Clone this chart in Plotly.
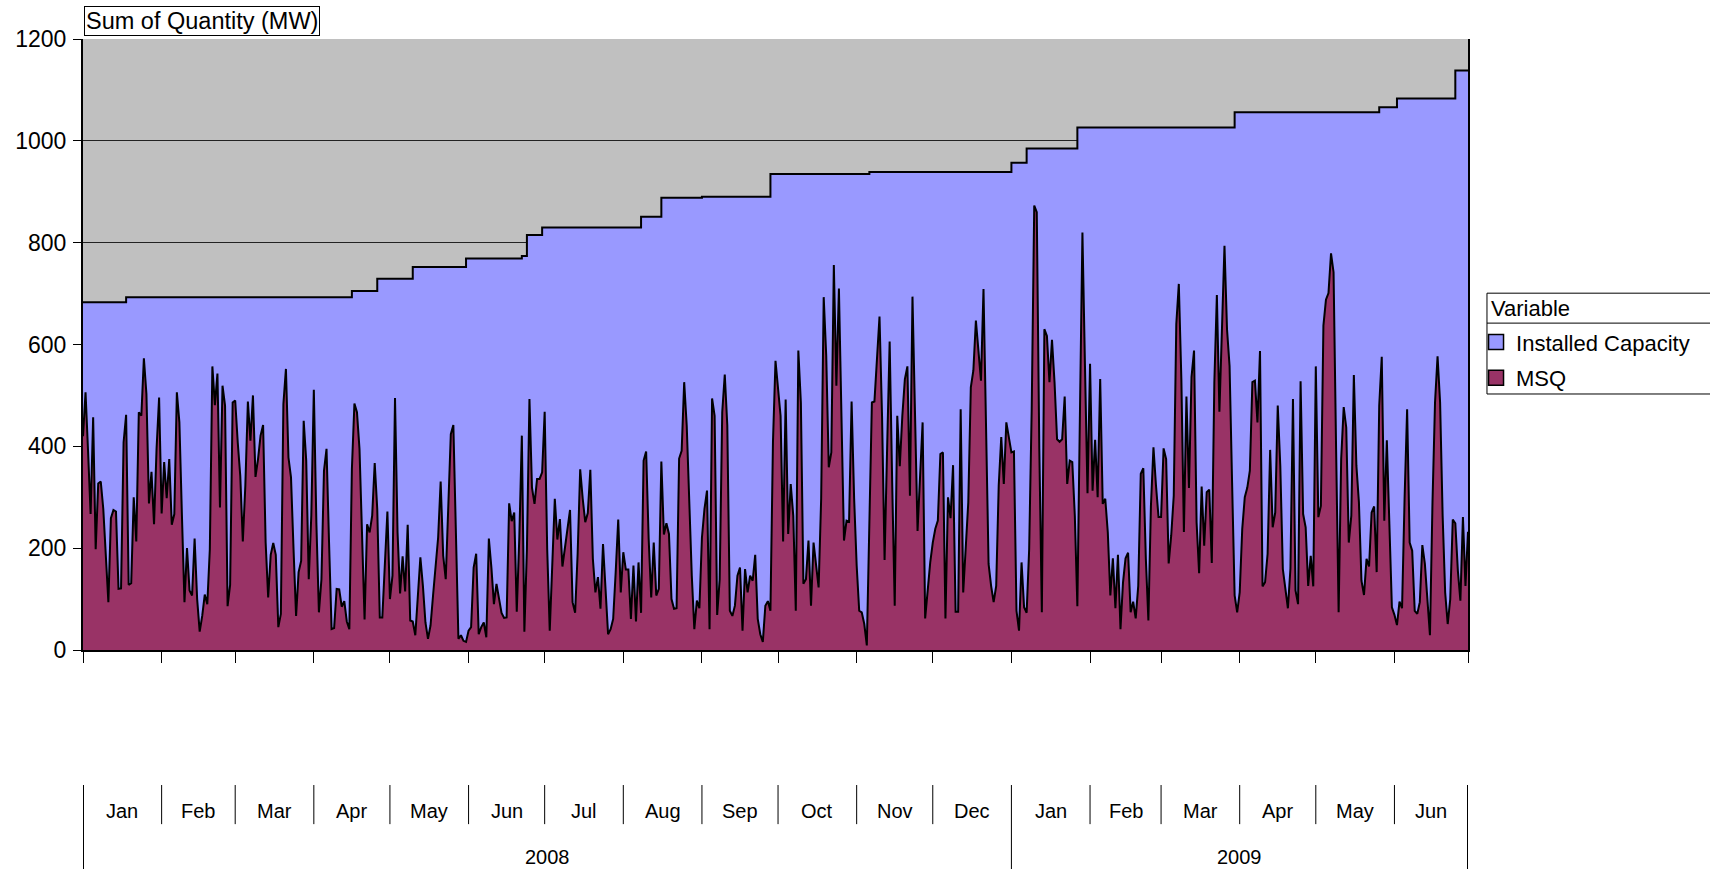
import pandas as pd
import plotly.graph_objects as go

# ---------------- data ----------------
msq_2008_01 = [420, 506, 390, 267, 457, 198, 327, 331, 277, 190, 94, 259, 275, 272, 120, 121, 408, 462, 128, 131, 300, 213, 467, 460, 573, 503, 288, 350, 247, 395, 496]
msq_2008_02 = [268, 369, 298, 375, 246, 267, 506, 447, 264, 94, 200, 117, 107, 219, 100, 36, 67, 109, 90, 198, 557, 481, 543, 280, 519, 480, 86, 128, 486]
msq_2008_03 = [490, 408, 342, 213, 323, 488, 411, 500, 340, 375, 421, 442, 211, 103, 187, 210, 187, 45, 71, 483, 552, 378, 339, 198, 67, 153, 175, 450, 372, 139, 264]
msq_2008_04 = [511, 250, 74, 139, 352, 395, 211, 41, 43, 120, 119, 85, 96, 56, 41, 355, 484, 467, 395, 231, 60, 247, 231, 264, 367, 277, 64, 64, 159, 272]
msq_2008_05 = [100, 146, 495, 231, 111, 184, 115, 246, 58, 56, 29, 110, 182, 126, 54, 22, 48, 107, 159, 221, 331, 185, 139, 297, 424, 442, 225, 22, 29, 18, 16]
msq_2008_06 = [38, 45, 162, 189, 31, 45, 54, 25, 219, 162, 90, 130, 103, 73, 63, 64, 288, 253, 270, 75, 221, 421, 36, 198, 493, 319, 287, 336, 336, 349]
msq_2008_07 = [468, 198, 38, 166, 297, 217, 257, 164, 198, 234, 275, 94, 73, 189, 355, 297, 251, 269, 354, 179, 113, 143, 81, 208, 113, 31, 41, 61, 153, 256, 113]
msq_2008_08 = [192, 158, 158, 61, 166, 56, 172, 73, 372, 390, 218, 103, 211, 107, 120, 370, 227, 249, 228, 100, 81, 82, 376, 391, 526, 441, 277, 146, 41, 97, 82]
msq_2008_09 = [221, 277, 313, 41, 494, 460, 69, 139, 467, 541, 441, 77, 67, 87, 146, 162, 38, 159, 113, 146, 136, 187, 61, 31, 16, 87, 96, 77, 408, 568]
msq_2008_10 = [513, 460, 213, 492, 228, 326, 264, 77, 588, 486, 130, 139, 215, 87, 211, 172, 123, 297, 693, 578, 359, 388, 756, 519, 710, 460, 215, 254, 252, 488, 297]
msq_2008_11 = [166, 77, 74, 51, 9, 244, 486, 488, 565, 655, 460, 177, 395, 606, 329, 87, 460, 361, 460, 532, 557, 303, 694, 460, 234, 342, 447, 62, 120, 172]
msq_2008_12 = [211, 238, 254, 385, 388, 62, 300, 259, 363, 75, 75, 473, 113, 198, 290, 516, 549, 647, 591, 529, 709, 434, 169, 126, 94, 126, 323, 418, 326, 447, 421]
msq_2009_01 = [388, 390, 77, 38, 172, 84, 73, 198, 473, 873, 860, 395, 74, 630, 617, 526, 609, 526, 414, 409, 414, 498, 326, 372, 369, 264, 86, 460, 820, 558, 308]
msq_2009_02 = [562, 313, 413, 300, 532, 287, 297, 231, 107, 180, 82, 187, 41, 133, 180, 191, 74, 95, 62, 126, 346, 357, 179, 58, 283, 398, 323, 261]
msq_2009_03 = [261, 396, 375, 170, 225, 303, 640, 719, 532, 232, 498, 318, 536, 588, 251, 151, 321, 205, 310, 315, 171, 526, 697, 468, 630, 794, 630, 558, 329, 107, 74]
msq_2009_04 = [113, 238, 300, 319, 352, 526, 529, 447, 587, 125, 133, 189, 393, 241, 270, 480, 362, 159, 120, 82, 160, 493, 117, 90, 528, 267, 241, 126, 185, 125]
msq_2009_05 = [557, 261, 283, 637, 688, 701, 779, 742, 395, 74, 375, 477, 437, 211, 264, 540, 362, 290, 136, 108, 179, 164, 270, 282, 153, 480, 576, 254, 412, 257, 84]
msq_2009_06 = [69, 49, 95, 82, 297, 473, 211, 195, 77, 71, 94, 206, 169, 94, 29, 290, 486, 577, 486, 264, 113, 51, 100, 256, 249, 156, 97, 261, 126, 232]

month_starts = ["2008-01-01", "2008-02-01", "2008-03-01", "2008-04-01", "2008-05-01", "2008-06-01",
                "2008-07-01", "2008-08-01", "2008-09-01", "2008-10-01", "2008-11-01", "2008-12-01",
                "2009-01-01", "2009-02-01", "2009-03-01", "2009-04-01", "2009-05-01", "2009-06-01"]
month_labels = ["Jan", "Feb", "Mar", "Apr", "May", "Jun", "Jul", "Aug", "Sep", "Oct", "Nov", "Dec",
                "Jan", "Feb", "Mar", "Apr", "May", "Jun"]
year_labels = ["2008", "2009"]
year_starts = ["2008-01-01", "2009-01-01"]
last_day = "2009-06-30"

# Installed capacity: date of each step and the level from that date on
cap_dates = ["2008-01-01", "2008-01-18", "2008-04-16", "2008-04-26", "2008-05-10", "2008-05-31",
             "2008-06-22", "2008-06-24", "2008-06-30", "2008-08-08", "2008-08-16", "2008-09-01",
             "2008-09-28", "2008-11-06", "2009-01-01", "2009-01-07", "2009-01-27", "2009-03-30",
             "2009-05-26", "2009-06-02", "2009-06-25", "2009-06-30"]
cap_values = [683, 693, 705, 729, 752, 769, 774, 815, 830, 851, 888, 890,
              935, 939, 957, 985, 1026, 1056, 1066, 1083, 1138, 1138]

y_ticks = [0, 200, 400, 600, 800, 1000, 1200]

# ---------------- build ----------------
msq_months = [msq_2008_01, msq_2008_02, msq_2008_03, msq_2008_04, msq_2008_05, msq_2008_06,
              msq_2008_07, msq_2008_08, msq_2008_09, msq_2008_10, msq_2008_11, msq_2008_12,
              msq_2009_01, msq_2009_02, msq_2009_03, msq_2009_04, msq_2009_05, msq_2009_06]
msq_x, msq_y = [], []
for start, vals in zip(month_starts, msq_months):
    msq_x += list(pd.date_range(start, periods=len(vals), freq="D"))
    msq_y += vals

FONT = "Liberation Sans, Arial, sans-serif"
C_CAP = "#9999FF"
C_MSQ = "#993366"
C_BG = "#C0C0C0"

fig = go.Figure()
fig.add_trace(go.Scatter(x=pd.to_datetime(cap_dates), y=cap_values, mode="lines",
                         line=dict(color="black", width=2, shape="hv"),
                         fill="tozeroy", fillcolor=C_CAP, showlegend=False,
                         name="Installed Capacity"))
fig.add_trace(go.Scatter(x=msq_x, y=msq_y, mode="lines",
                         line=dict(color="black", width=2),
                         fill="tozeroy", fillcolor=C_MSQ, showlegend=False, name="MSQ"))
# legend swatches
for nm, col in [("Installed Capacity", C_CAP), ("MSQ", C_MSQ)]:
    fig.add_trace(go.Scatter(x=[None], y=[None], mode="markers", name=nm, legendgroup=nm,
                             marker=dict(symbol="square", size=15, color=col,
                                         line=dict(color="black", width=1.5))))

bounds = [pd.Timestamp(d) for d in month_starts] + [pd.Timestamp(last_day)]
shapes = []
annotations = []
Y_TOP = -0.221
Y_MON = -0.285
Y_BOT = -0.36
for i, b in enumerate(bounds):
    is_year = b.strftime("%Y-%m-%d") in year_starts or i == len(bounds) - 1
    shapes.append(dict(type="line", xref="x", yref="paper", x0=b, x1=b, y0=Y_TOP,
                       y1=Y_BOT if is_year else Y_MON,
                       line=dict(color="black", width=2 if (i == 0 or i == len(bounds) - 1) else 1)))
for i, lab in enumerate(month_labels):
    mid = bounds[i] + (bounds[i + 1] - bounds[i]) / 2
    annotations.append(dict(x=mid, y=-0.263, xref="x", yref="paper", yanchor="middle", text=lab,
                            showarrow=False, font=dict(size=20, color="black", family=FONT)))
ybounds = [pd.Timestamp(d) for d in year_starts] + [pd.Timestamp(last_day)]
for i, lab in enumerate(year_labels):
    mid = ybounds[i] + (ybounds[i + 1] - ybounds[i]) / 2
    annotations.append(dict(x=mid, y=-0.338, xref="x", yref="paper", yanchor="middle", text=lab,
                            showarrow=False, font=dict(size=20, color="black", family=FONT)))
annotations.append(dict(x=0.001, y=1.005, xref="paper", yref="paper", xanchor="left", yanchor="bottom",
                        text="Sum of Quantity (MW)", showarrow=False, bgcolor="white",
                        bordercolor="black", borderwidth=1, borderpad=1,
                        font=dict(size=23.5, color="black", family=FONT)))

# legend frame, title and separator (paper coordinates of the legend box)
LG_X0, LG_X1 = 1.0137, 1.3
LG_Y0, LG_Y1, LG_SEP = 0.419, 0.584, 0.535
shapes.append(dict(type="rect", xref="paper", yref="paper", x0=LG_X0, x1=LG_X1, y0=LG_Y0, y1=LG_Y1,
                   line=dict(color="black", width=1), fillcolor="white", layer="below"))
shapes.append(dict(type="line", xref="paper", yref="paper", x0=LG_X0, x1=LG_X1, y0=LG_SEP, y1=LG_SEP,
                   line=dict(color="black", width=1)))
annotations.append(dict(x=1.0155, y=(LG_Y1 + LG_SEP) / 2, xref="paper", yref="paper",
                        xanchor="left", yanchor="middle", text="Variable", showarrow=False,
                        font=dict(size=22, color="black", family=FONT)))

fig.update_layout(
    width=1710, height=869,
    margin=dict(l=83, r=242, t=39, b=219, autoexpand=False),
    paper_bgcolor="white", plot_bgcolor=C_BG,
    font=dict(family=FONT, color="black", size=20),
    xaxis=dict(type="date", range=[month_starts[0], last_day], tickvals=bounds,
               showticklabels=False, ticks="outside", ticklen=11, tickcolor="black", tickwidth=1,
               showline=True, linecolor="black", linewidth=2, showgrid=False, zeroline=False),
    yaxis=dict(range=[0, 1200], tickvals=y_ticks, ticks="outside", ticklen=8, tickcolor="black",
               showline=True, linecolor="black", linewidth=2, mirror=True,
               showgrid=True, gridcolor="#222222", gridwidth=1, zeroline=False,
               tickfont=dict(size=23, color="black", family=FONT), ticklabelstandoff=2),
    legend=dict(x=1.0058, xanchor="left", y=0.538, yanchor="top", bgcolor="rgba(0,0,0,0)",
                borderwidth=0, tracegroupgap=4, itemwidth=30,
                font=dict(size=22, color="black", family=FONT)),
    shapes=shapes, annotations=annotations,
    showlegend=True,
)

fig.write_html("out.html", include_plotlyjs=True, config={"displayModeBar": False},
               post_script="document.body.style.margin='0';")
